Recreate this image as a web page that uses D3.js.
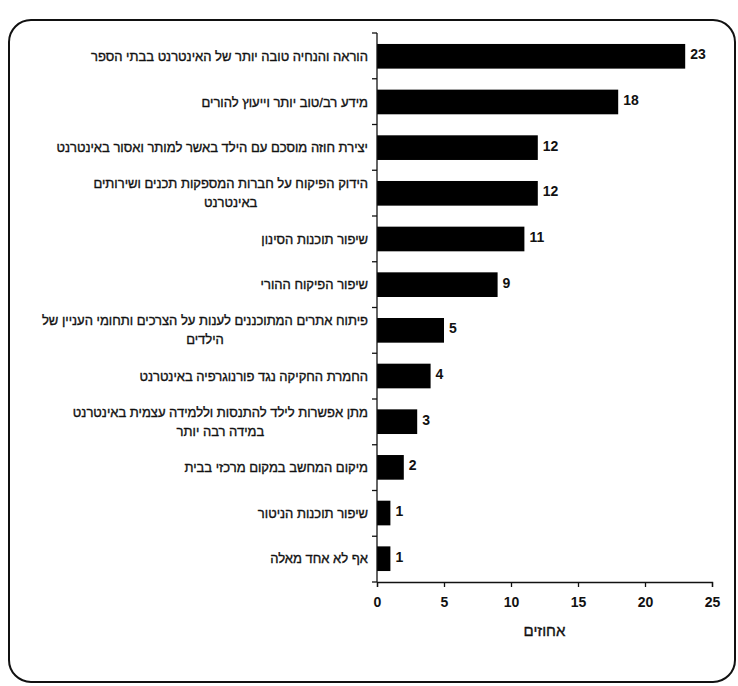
<!DOCTYPE html>
<html>
<head>
<meta charset="utf-8">
<script src="https://cdn.jsdelivr.net/npm/d3@7"></script>
<style>
  body { margin: 0; background: #fff; }
  svg text { font-family: "Liberation Sans", Arial, sans-serif; fill: #111; }
</style>
</head>
<body>
<svg id="chart"></svg>
<script>
// Data
const labels = [
    ["הוראה והנחיה טובה יותר של האינטרנט בבתי הספר"],
    ["מידע רב/טוב יותר וייעוץ להורים"],
    ["יצירת חוזה מוסכם עם הילד באשר למותר ואסור באינטרנט"],
    ["הידוק הפיקוח על חברות המספקות תכנים ושירותים", "באינטרנט"],
    ["שיפור תוכנות הסינון"],
    ["שיפור הפיקוח ההורי"],
    ["פיתוח אתרים המתוכננים לענות על הצרכים ותחומי העניין של", "הילדים"],
    ["החמרת החקיקה נגד פורנוגרפיה באינטרנט"],
    ["מתן אפשרות לילד להתנסות וללמידה עצמית באינטרנט", "במידה רבה יותר"],
    ["מיקום המחשב במקום מרכזי בבית"],
    ["שיפור תוכנות הניטור"],
    ["אף לא אחד מאלה"]
];
const values = [23, 18, 12, 12, 11, 9, 5, 4, 3, 2, 1, 1];
const xTicks = [0, 5, 10, 15, 20, 25];
const xTitle = "אחוזים";

const width = 738, height = 686;
const margin = { top: 33, left: 377, right: 26, bottom: 104 };

const svg = d3.select("#chart")
    .attr("width", width)
    .attr("height", height);

// Rounded frame
svg.append("rect")
    .attr("x", 9).attr("y", 20)
    .attr("width", 726).attr("height", 662)
    .attr("rx", 22)
    .attr("fill", "none")
    .attr("stroke", "#111")
    .attr("stroke-width", 2);

const x = d3.scaleLinear()
    .domain([0, 25])
    .range([margin.left, width - margin.right]);

const y = d3.scaleBand()
    .domain(d3.range(values.length))
    .range([margin.top, height - margin.bottom])
    .paddingInner(0.46)
    .paddingOuter(0.24);

// Bars
svg.append("g")
    .selectAll("rect")
    .data(values)
    .join("rect")
    .attr("x", x(0))
    .attr("y", (d, i) => y(i))
    .attr("width", d => x(d) - x(0))
    .attr("height", y.bandwidth())
    .attr("fill", "#000");

// Value labels
svg.append("g")
    .selectAll("text")
    .data(values)
    .join("text")
    .attr("x", d => x(d) + 5)
    .attr("y", (d, i) => y(i) + y.bandwidth() / 2 - 2)
    .attr("dy", "0.35em")
    .attr("font-size", 14)
    .attr("font-weight", "bold")
    .text(d => d);

// X axis
const xAxis = svg.append("g")
    .attr("transform", `translate(0,${height - margin.bottom})`)
    .call(d3.axisBottom(x).tickValues(xTicks).tickSize(5).tickPadding(10));
xAxis.selectAll("text").attr("font-size", 14).attr("fill", "#111")
    .attr("font-weight", "bold")
    .style("font-family", "'Liberation Sans', Arial, sans-serif");
xAxis.selectAll("line, path").attr("stroke", "#111").attr("stroke-width", 1.3);

// Y axis (ticks between categories)
const yAxis = svg.append("g");
yAxis.append("line")
    .attr("x1", x(0)).attr("x2", x(0))
    .attr("y1", margin.top).attr("y2", height - margin.bottom)
    .attr("stroke", "#111").attr("stroke-width", 1.3);
const bandH = (height - margin.top - margin.bottom) / values.length;
yAxis.selectAll(".tk")
    .data(d3.range(values.length + 1))
    .join("line")
    .attr("x1", x(0) - 5).attr("x2", x(0))
    .attr("y1", i => margin.top + i * bandH)
    .attr("y2", i => margin.top + i * bandH)
    .attr("stroke", "#111").attr("stroke-width", 1.3);

// Category labels (RTL, right aligned, continuation lines centered)
const labelRight = 368;
const lineH = 19;
labels.forEach((lines, i) => {
    const cy = y(i) + y.bandwidth() / 2;
    const first = svg.append("text")
        .attr("x", labelRight)
        .attr("y", cy - (lines.length - 1) * lineH / 2)
        .attr("dy", "0.35em")
        .attr("direction", "rtl")
        .attr("text-anchor", "start")
        .attr("font-size", 13)
        .attr("stroke", "#111")
        .attr("stroke-width", 0.35)
        .text(lines[0]);
    if (lines.length > 1) {
        const w = first.node().getComputedTextLength();
        svg.append("text")
            .attr("x", labelRight - w / 2)
            .attr("y", cy + lineH / 2)
            .attr("dy", "0.35em")
            .attr("direction", "rtl")
            .attr("text-anchor", "middle")
            .attr("font-size", 13)
            .attr("stroke", "#111")
            .attr("stroke-width", 0.35)
            .text(lines[1]);
    }
});

// Axis title
svg.append("text")
    .attr("x", x(12.5))
    .attr("y", 636)
    .attr("text-anchor", "middle")
    .attr("direction", "rtl")
    .attr("font-size", 15)
    .attr("stroke", "#111")
    .attr("stroke-width", 0.35)
    .text(xTitle);
</script>
</body>
</html>
